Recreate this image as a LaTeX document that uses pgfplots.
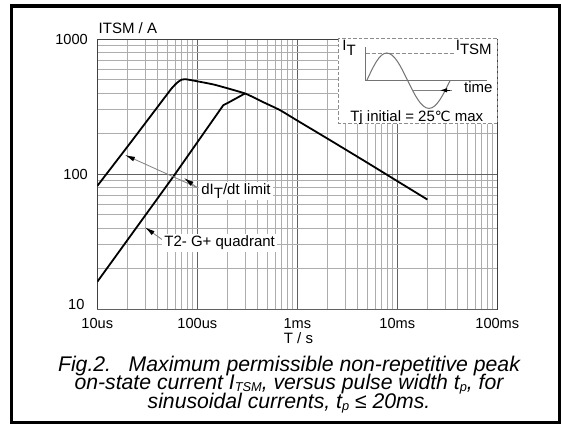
\documentclass[border=0pt]{standalone}
\usepackage{fontspec}
\setmainfont{Liberation Sans}
\newfontfamily\dejavu{DejaVu Sans}
\usepackage{pgfplots}
\pgfplotsset{compat=1.18}
\usetikzlibrary{arrows.meta}
\newcommand{\capsub}[1]{\raisebox{-0.07em}{\fontsize{6.4}{7}\selectfont #1}}
\begin{document}
\begin{tikzpicture}
\useasboundingbox (0,0) rectangle (281pt,214pt);
\begin{axis}[
  at={(48.65pt,59.35pt)}, anchor=south west,
  scale only axis, width=200pt, height=135pt,
  xmode=log, ymode=log,
  xmin=1e-5, xmax=1e-1, ymin=10, ymax=1000,
  xtick={1e-5,1e-4,1e-3,1e-2,1e-1},
  xticklabels={10us,100us,1ms,10ms,100ms},
  ytick={100,1000}, yticklabels={100,1000},
  extra y ticks={10}, extra y tick labels={10},
  extra y tick style={yticklabel style={yshift=2.6pt,xshift=-1.7pt}},
  minor xtick={2e-5,3e-5,4e-5,5e-5,6e-5,7e-5,8e-5,9e-5,
               2e-4,3e-4,4e-4,5e-4,6e-4,7e-4,8e-4,9e-4,
               2e-3,3e-3,4e-3,5e-3,6e-3,7e-3,8e-3,9e-3,
               2e-2,3e-2,4e-2,5e-2,6e-2,7e-2,8e-2,9e-2},
  minor ytick={20,30,40,50,60,70,80,90,200,300,400,500,600,700,800,900},
  grid=both,
  major grid style={black!62, line width=0.55pt},
  minor grid style={black!32, line width=0.45pt},
  axis line style={black!75, line width=0.6pt},
  major tick length=0pt, minor tick length=0pt,
  tick label style={font=\fontsize{7.3}{8}\selectfont},
  xticklabel style={yshift=-1.2pt},
  yticklabel style={xshift=-1.2pt},
]
% dI_T/dt limit curve
\addplot[black, line width=0.9pt, smooth, tension=0.3] coordinates {
  (1e-5,82) (2e-5,160) (4e-5,315) (5.5e-5,430) (6.3e-5,478) (7e-5,503)
  (7.8e-5,505) (9.5e-5,492) (1.5e-4,460) (3e-4,397) (4.5e-4,344)
  (6.7e-4,299) (1e-3,250) (2e-3,184) (5e-3,122) (1e-2,89) (2e-2,65)
};
% T2- G+ quadrant curve
\addplot[black, line width=0.9pt] coordinates {
  (1e-5,16) (5.75e-5,96) (1.82e-4,325) (2.05e-4,340) (3e-4,397)
};
\end{axis}
\begin{scope}[x=0.5pt,y=-0.5pt,shift={(0pt,214pt)}]
  % inset
  \fill[white] (338.3,38.3) rectangle (497.3,123.7);
  \draw[black!45, line width=0.5pt, dash pattern=on 1.8pt off 1pt] (338.3,38.3) rectangle (497.3,123.7);
  \draw[black!55, line width=0.45pt] (365.7,47) -- (365.7,80.7) -- (486.7,80.7);
  \draw[black!45, line width=0.45pt, dash pattern=on 2pt off 1pt] (365.7,53) -- (455,53);
  \draw[black!55, line width=0.5pt] (366.7,80.7) sin (386.7,53) cos (407.7,80.7) sin (429,108.4) cos (450,80.7);
  \draw[black!50, line width=0.4pt] (412,90.3) -- (452,90.3);
  \draw[black, line width=0.4pt, -{Latex[length=3.5pt,width=2.2pt]}] (450,90.3) -- (440,90.3);
  \begin{scope}[font=\fontsize{7.5}{8}\selectfont]
    \node[anchor=base west, inner sep=0] at (342,51) {I\raisebox{-2.2pt}{T}};
    \node[anchor=base west, inner sep=0] at (455.5,51) {I\raisebox{-2pt}{TSM}};
    \node[anchor=base, inner sep=0] at (478.3,92.5) {time};
    \node[anchor=base, inner sep=0] at (416.7,121.5) {Tj initial = 25{\dejavu\fontsize{7}{8}\selectfont ℃} max};
    % annotations
    \node[anchor=base west, fill=white, inner sep=1pt] at (199,194.5) {dI\raisebox{-2pt}{T}/dt limit};
    \node[anchor=base west, fill=white, inner sep=1pt] at (162,247) {T2- G+ quadrant};
    % axis labels
    \node[anchor=base west, inner sep=0] at (98.3,33.3) {ITSM / A};
    \node[anchor=base, inner sep=0] at (298.5,343.5) {T / s};
  \end{scope}
  \draw[black!50, line width=0.4pt, -{Latex[length=5pt,width=2.4pt,color=black]}] (197,187.5) -- (125,155);
  \draw[black!50, line width=0.4pt, -{Latex[length=5pt,width=2.4pt,color=black]}] (197,187.5) -- (184,178);
  \draw[black!50, line width=0.4pt, -{Latex[length=5pt,width=2.4pt,color=black]}] (162,239.5) -- (145,227.3);
  % caption
  \begin{scope}[font=\fontsize{10.6}{8.4}\selectfont\itshape]
    \node[anchor=base, inner sep=0] at (289,371.5) {Fig.2.\ \ \ Maximum permissible non-repetitive peak};
    \node[anchor=base, inner sep=0] at (289,390) {on-state current I\capsub{TSM}, versus pulse width t\capsub{p}, for};
    \node[anchor=base, inner sep=0] at (289,409) {sinusoidal currents, t\capsub{p} ≤ 20ms.};
  \end{scope}
  % frame
  \draw[line width=1.6pt] (11.7,6) rectangle (559.3,422.5);
\end{scope}
\end{tikzpicture}
\end{document}
